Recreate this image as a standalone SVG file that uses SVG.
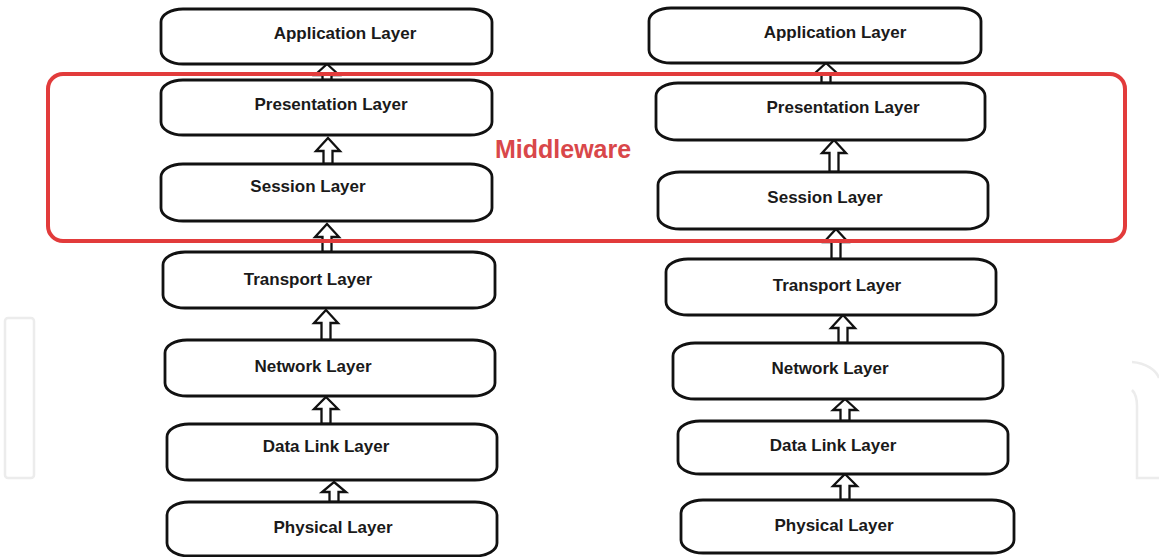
<svg xmlns="http://www.w3.org/2000/svg" width="1159" height="557" viewBox="0 0 1159 557">
<style>
.box{fill:#fff;stroke:#111;stroke-width:2.8}
.lbl{font-family:"Liberation Sans",Arial,sans-serif;font-weight:bold;font-size:17px;fill:#1a1a1a;text-anchor:middle}
.arr{fill:#fff;stroke:#111;stroke-width:2.3;stroke-linejoin:miter}
.mw{fill:none;stroke:#e23b3b;stroke-width:4}
.mwt{font-family:"Liberation Sans",Arial,sans-serif;font-weight:bold;font-size:25px;fill:#d9474a}
.wm{fill:none;stroke:#ececec;stroke-width:2.5}
</style>
<rect width="1159" height="557" fill="#fff"/>
<g id="watermark">
<rect class="wm" x="5" y="318" width="29" height="160" rx="3"/>
<path class="wm" d="M1132,362 C1146,363 1156,370 1159,378"/>
<path class="wm" d="M1132,390 C1136,394 1137,399 1137,406 L1137,478 L1159,478"/>
</g>
<g id="connectors">
<path class="arr" d="M327,64 L339,75 L331.5,75 L331.5,80 L322.5,80 L322.5,75 L315,75 Z"/>
<path class="arr" d="M328,138 L340,151 L332.5,151 L332.5,164 L323.5,164 L323.5,151 L316,151 Z"/>
<path class="arr" d="M327,224 L339,237 L331.5,237 L331.5,252 L322.5,252 L322.5,237 L315,237 Z"/>
<path class="arr" d="M326,310 L338,323 L330.5,323 L330.5,340 L321.5,340 L321.5,323 L314,323 Z"/>
<path class="arr" d="M326,397 L338,409 L330.5,409 L330.5,424 L321.5,424 L321.5,409 L314,409 Z"/>
<path class="arr" d="M334,482 L346,492 L338.5,492 L338.5,502 L329.5,502 L329.5,492 L322,492 Z"/>
<path class="arr" d="M826,63 L838,74 L830.5,74 L830.5,83 L821.5,83 L821.5,74 L814,74 Z"/>
<path class="arr" d="M834,140 L846,153 L838.5,153 L838.5,172 L829.5,172 L829.5,153 L822,153 Z"/>
<path class="arr" d="M836,229 L848,242 L840.5,242 L840.5,259 L831.5,259 L831.5,242 L824,242 Z"/>
<path class="arr" d="M843,315 L855,328 L847.5,328 L847.5,343 L838.5,343 L838.5,328 L831,328 Z"/>
<path class="arr" d="M845,399 L857,410 L849.5,410 L849.5,421 L840.5,421 L840.5,410 L833,410 Z"/>
<path class="arr" d="M845,474 L857,486 L849.5,486 L849.5,500 L840.5,500 L840.5,486 L833,486 Z"/>
</g>
<g id="l-app"><rect class="box" x="161" y="9" width="331" height="55" rx="22" ry="13"/><text class="lbl" x="345" y="39">Application Layer</text></g>
<g id="l-pres"><rect class="box" x="161" y="80" width="331" height="55" rx="22" ry="13"/><text class="lbl" x="331" y="110">Presentation Layer</text></g>
<g id="l-sess"><rect class="box" x="161" y="164" width="331" height="57" rx="22" ry="13"/><text class="lbl" x="308" y="192">Session Layer</text></g>
<g id="l-trans"><rect class="box" x="163" y="252" width="332" height="56" rx="22" ry="13"/><text class="lbl" x="308" y="285">Transport Layer</text></g>
<g id="l-net"><rect class="box" x="165" y="340" width="330" height="56" rx="22" ry="13"/><text class="lbl" x="313" y="372">Network Layer</text></g>
<g id="l-dl"><rect class="box" x="167" y="424" width="330" height="56" rx="22" ry="13"/><text class="lbl" x="326" y="452">Data Link Layer</text></g>
<g id="l-phys"><rect class="box" x="167" y="502" width="330" height="54" rx="22" ry="13"/><text class="lbl" x="333" y="533">Physical Layer</text></g>
<g id="r-app"><rect class="box" x="649" y="8" width="332" height="55" rx="22" ry="13"/><text class="lbl" x="835" y="38">Application Layer</text></g>
<g id="r-pres"><rect class="box" x="656" y="83" width="329" height="57" rx="22" ry="13"/><text class="lbl" x="843" y="113">Presentation Layer</text></g>
<g id="r-sess"><rect class="box" x="658" y="172" width="330" height="57" rx="22" ry="13"/><text class="lbl" x="825" y="203">Session Layer</text></g>
<g id="r-trans"><rect class="box" x="666" y="259" width="330" height="56" rx="22" ry="13"/><text class="lbl" x="837" y="291">Transport Layer</text></g>
<g id="r-net"><rect class="box" x="673" y="343" width="330" height="56" rx="22" ry="13"/><text class="lbl" x="830" y="374">Network Layer</text></g>
<g id="r-dl"><rect class="box" x="678" y="421" width="330" height="53" rx="22" ry="13"/><text class="lbl" x="833" y="451">Data Link Layer</text></g>
<g id="r-phys"><rect class="box" x="681" y="500" width="333" height="53" rx="22" ry="13"/><text class="lbl" x="834" y="531">Physical Layer</text></g>
<g id="middleware">
<rect class="mw" x="48" y="74" width="1077" height="167" rx="15"/>
<text class="mwt" x="495" y="158">Middleware</text>
</g>
</svg>
